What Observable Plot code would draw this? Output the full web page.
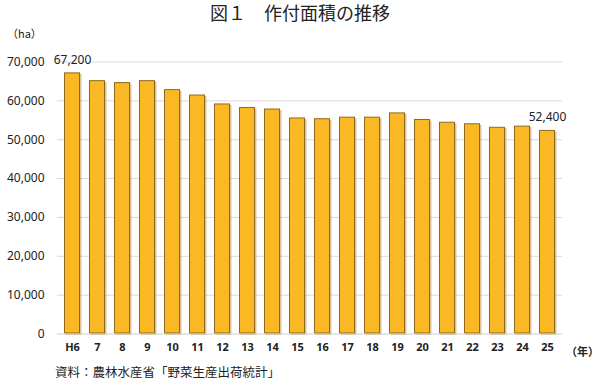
<!DOCTYPE html>
<html><head><meta charset="utf-8">
<script src="https://cdn.jsdelivr.net/npm/d3@7"></script>
<script src="https://cdn.jsdelivr.net/npm/@observablehq/plot@0.6"></script>
<style>
body{margin:0;background:#fff;}
#wrap{position:relative;width:600px;height:383px;overflow:hidden;font-family:"Noto Sans CJK JP","Noto Sans",sans-serif;color:#222;}
#title{position:absolute;left:0;width:600px;top:0;text-align:center;font-size:18px;line-height:24px;color:#222;}
#unit{position:absolute;left:7px;top:25px;font-size:11px;line-height:16px;}
#nen{position:absolute;left:566px;top:343px;font-size:11px;line-height:16px;font-weight:bold;white-space:nowrap;}
#cap{position:absolute;left:55px;top:363px;font-size:12.5px;line-height:18px;}
#chart{position:absolute;left:0;top:0;}
</style></head>
<body><div id="wrap">
<div id="chart"></div>
<div id="title">図１　作付面積の推移</div>
<div id="unit">（ha）</div>
<div id="nen">（年）</div>
<div id="cap">資料：農林水産省「野菜生産出荷統計」</div>
</div>
<script>
const years = ["H6","7","8","9","10","11","12","13","14","15","16","17","18","19","20","21","22","23","24","25"];
const area = [67200,65200,64700,65200,62900,61500,59200,58300,57900,55600,55400,55800,55800,56900,55200,54500,54100,53200,53500,52400];
const yTicks = [0,10000,20000,30000,40000,50000,60000,70000];
const labeled = ["H6","25"];

const data = years.map((y,i)=>({year:y, value:area[i]}));
const fmt = d3.format(",");

const plot = Plot.plot({
  width:600, height:383,
  marginLeft:57, marginRight:38, marginTop:61.5, marginBottom:49.5,
  style:{fontFamily:"Noto Sans, sans-serif", fontSize:"12px", color:"#222", background:"transparent"},
  x:{domain:years, paddingInner:0.347, paddingOuter:0.18, label:null, tickSize:0, tickPadding:9},
  y:{domain:[0,70000], ticks:yTicks, tickFormat:fmt, label:null, tickSize:0, tickPadding:13},
  marks:[
    Plot.ruleY(yTicks.filter(d=>d>0), {stroke:"#d9d9d9", strokeWidth:1}),
    Plot.barY(data, {x:"year", y:"value", fill:"#b8914a", fillOpacity:0.55, dx:1.5, dy:1.5}),
    Plot.barY(data, {x:"year", y:"value", fill:"#F9B824", stroke:"#8f6a1e", strokeWidth:1, inset:0.5}),
    Plot.ruleY([0], {stroke:"#cfcfcf", strokeWidth:1}),
    Plot.text(data.filter(d=>labeled.includes(d.year)), {x:"year", y:"value", text:d=>fmt(d.value), dy:-13, fontSize:12, fill:"#222"}),
    Plot.axisX({tickSize:0, tickPadding:9, fontSize:11, fontWeight:"bold", label:null}),
    Plot.axisY({ticks:yTicks, tickFormat:fmt, tickSize:0, tickPadding:13, fontSize:12, label:null})
  ]
});
document.getElementById("chart").appendChild(plot);
</script>
</body></html>
